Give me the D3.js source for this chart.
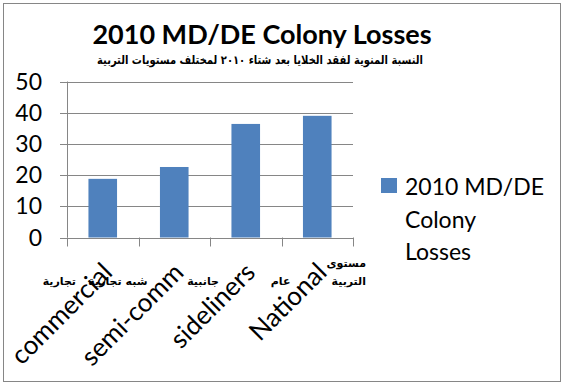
<!DOCTYPE html>
<html>
<head>
<meta charset="utf-8">
<script src="https://cdnjs.cloudflare.com/ajax/libs/d3/7.8.5/d3.min.js"></script>
<style>
  body { margin: 0; background: #fff; }
  svg { display: block; }
</style>
</head>
<body>
<svg id="canvas" width="566" height="386"></svg>
<script>
"use strict";

var categories = ["commercial", "semi-comm", "sideliners", "National"];
var arabicCategories = ["تجارية", "شبه تجارية", "جانبية", "عام"];
var losses = [18.8, 22.6, 36.4, 39.0];
var yTicks = [0, 10, 20, 30, 40, 50];
var axisTitleLines = ["مستوى", "التربية"];
var legendLines = ["2010 MD/DE", "Colony", "Losses"];
var titleText = "2010 MD/DE Colony Losses";
var subtitleText = "النسبة المنوية لفقد الخلايا بعد شتاء ٢٠١٠ لمختلف مستويات التربية";

var FONT = "Lato, 'Open Sans', sans-serif";
var ARABIC_FONT = "'DejaVu Sans', sans-serif";
var BAR_COLOR = "#4F81BD";
var GRID_COLOR = "#868686";

var svg = d3.select(document.getElementById("canvas"));

// Outer border
svg.append("rect")
    .attr("x", 3.5).attr("y", 3.5)
    .attr("width", 557).attr("height", 378)
    .attr("fill", "#fff")
    .attr("stroke", "#868686")
    .attr("stroke-width", 1);

// Titles
svg.append("text")
    .attr("x", 262).attr("y", 44)
    .attr("text-anchor", "middle")
    .attr("font-family", FONT)
    .attr("font-weight", "bold")
    .attr("font-size", "27px")
    .attr("fill", "#000")
    .text(titleText);

svg.append("text")
    .attr("x", 260).attr("y", 64)
    .attr("text-anchor", "middle")
    .attr("font-family", ARABIC_FONT)
    .attr("font-weight", "bold")
    .attr("font-size", "12px")
    .attr("textLength", 326)
    .attr("lengthAdjust", "spacingAndGlyphs")
    .attr("fill", "#000")
    .text(subtitleText);

// Scales
var x = d3.scaleBand()
    .domain(categories)
    .range([67, 353])
    .paddingInner(0.6)
    .paddingOuter(0.3);

var y = d3.scaleLinear()
    .domain([0, 50])
    .range([237.5, 81.5]);

// Gridlines
svg.append("g")
    .selectAll("line")
    .data(yTicks)
    .enter().append("line")
    .attr("x1", 60).attr("x2", 353)
    .attr("y1", function(d) { return Math.round(y(d)) + 0.5; })
    .attr("y2", function(d) { return Math.round(y(d)) + 0.5; })
    .attr("stroke", GRID_COLOR)
    .attr("stroke-width", 1);

// Y axis line
svg.append("line")
    .attr("x1", 67.5).attr("x2", 67.5)
    .attr("y1", y(50)).attr("y2", y(0))
    .attr("stroke", GRID_COLOR);

// Category tick marks
var boundaries = categories.map(function(c) { return x(c) - x.step() * x.paddingInner() / 2; });
boundaries.push(353);
svg.append("g")
    .selectAll("line")
    .data(boundaries)
    .enter().append("line")
    .attr("x1", function(d) { return Math.round(d) + 0.5; })
    .attr("x2", function(d) { return Math.round(d) + 0.5; })
    .attr("y1", y(0)).attr("y2", y(0) + 9)
    .attr("stroke", GRID_COLOR);

// Y tick labels
svg.append("g")
    .selectAll("text")
    .data(yTicks)
    .enter().append("text")
    .attr("x", 42)
    .attr("y", function(d) { return y(d) + 8; })
    .attr("text-anchor", "end")
    .attr("font-family", FONT)
    .attr("font-size", "23px")
    .attr("fill", "#000")
    .text(function(d) { return d; });

// Bars
svg.append("g")
    .selectAll("rect")
    .data(losses)
    .enter().append("rect")
    .attr("x", function(d, i) { return x(categories[i]); })
    .attr("width", x.bandwidth())
    .attr("y", function(d) { return y(d); })
    .attr("height", function(d) { return y(0) - y(d); })
    .attr("fill", BAR_COLOR);

// Rotated category labels
svg.append("g")
    .selectAll("text")
    .data(categories)
    .enter().append("text")
    .attr("transform", function(d) {
        return "translate(" + (x(d) + x.bandwidth() / 2 + 11) + ",274) rotate(-45)";
    })
    .attr("text-anchor", "end")
    .attr("font-family", FONT)
    .attr("font-size", "26px")
    .attr("fill", "#000")
    .text(function(d) { return d; });

// Arabic category labels
svg.append("g")
    .selectAll("text")
    .data(arabicCategories)
    .enter().append("text")
    .attr("x", function(d, i) { return boundaries[i] + 9; })
    .attr("y", 285)
    .attr("text-anchor", "end")
    .attr("font-family", ARABIC_FONT)
    .attr("font-weight", "bold")
    .attr("font-size", "11px")
    .attr("fill", "#000")
    .text(function(d) { return d; });

// Axis title (Arabic, two lines)
svg.append("g")
    .selectAll("text")
    .data(axisTitleLines)
    .enter().append("text")
    .attr("x", 366)
    .attr("y", function(d, i) { return 267 + i * 18; })
    .attr("text-anchor", "end")
    .attr("font-family", ARABIC_FONT)
    .attr("font-weight", "bold")
    .attr("font-size", "11px")
    .attr("fill", "#000")
    .text(function(d) { return d; });

// Legend
svg.append("rect")
    .attr("x", 381).attr("y", 178)
    .attr("width", 16).attr("height", 15)
    .attr("fill", BAR_COLOR);

svg.append("g")
    .selectAll("text")
    .data(legendLines)
    .enter().append("text")
    .attr("x", 405)
    .attr("y", function(d, i) { return 195 + i * 32.5; })
    .attr("font-family", FONT)
    .attr("font-size", "23px")
    .attr("fill", "#000")
    .text(function(d) { return d; });
</script>
</body>
</html>
